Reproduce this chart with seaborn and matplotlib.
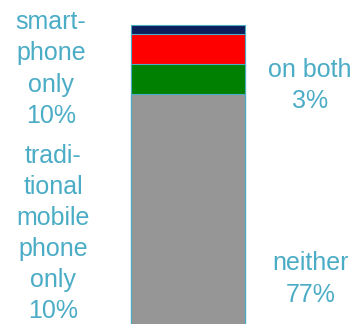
import numpy as np
import pandas as pd
import matplotlib
matplotlib.use("Agg")
import matplotlib.pyplot as plt
import seaborn as sns

# Shares of respondents by phone ownership (percent), bottom segment first
segments = ["neither", "traditional mobile phone only", "smartphone only", "on both"]
shares = [77, 10, 10, 3]
seg_colors = ["#969696", "#008000", "#FF0000", "#0C1E5B"]

# Side labels: lines of each label and their baseline/centre positions in pixels
left_top_lines = ["smart-", "phone", "only", "10%"]
left_bottom_lines = ["tradi-", "tional", "mobile", "phone", "only", "10%"]
right_top_lines = ["on both", "3%"]
right_bottom_lines = ["neither", "77%"]

W, H = 356, 324
LABEL_COLOR = "#4BACC6"
EDGE_COLOR = "#4BACC6"

sns.set_theme(style="white")
plt.rcParams["font.family"] = ["Liberation Sans", "DejaVu Sans"]

fig = plt.figure(figsize=(W / 100, H / 100), dpi=100)
ax = fig.add_axes([0, 0, 1, 1])

# Stacked bar drawn as overlapping cumulative bars, tallest first
cum = np.cumsum(shares)
for total, color in reversed(list(zip(cum, seg_colors))):
    df = pd.DataFrame({"grp": ["all"], "pct": [total]})
    sns.barplot(data=df, x="grp", y="pct", color=color, saturation=1,
                edgecolor=EDGE_COLOR, linewidth=0.8, width=0.8, ax=ax)

unit = 114.5 / 0.8
ax.set_xlim(-0.4 - 130.5 / unit, 0.4 + (W - 245) / unit)
ax.set_ylim(1 / 3, (H + 1) / 3)
ax.axis("off")


def put_lines(lines, cx, first_base, step):
    for i, s in enumerate(lines):
        y = first_base + i * step
        fig.text(cx / W, 1 - y / H, s, ha="center", va="baseline",
                 fontsize=18, color=LABEL_COLOR)


put_lines(left_top_lines, 51, 29, 31.3)
put_lines(left_bottom_lines, 53, 163, 31)
put_lines(right_top_lines, 310, 77, 30.5)
put_lines(right_bottom_lines, 311, 270, 32)

fig.savefig("out.png", dpi=100)
